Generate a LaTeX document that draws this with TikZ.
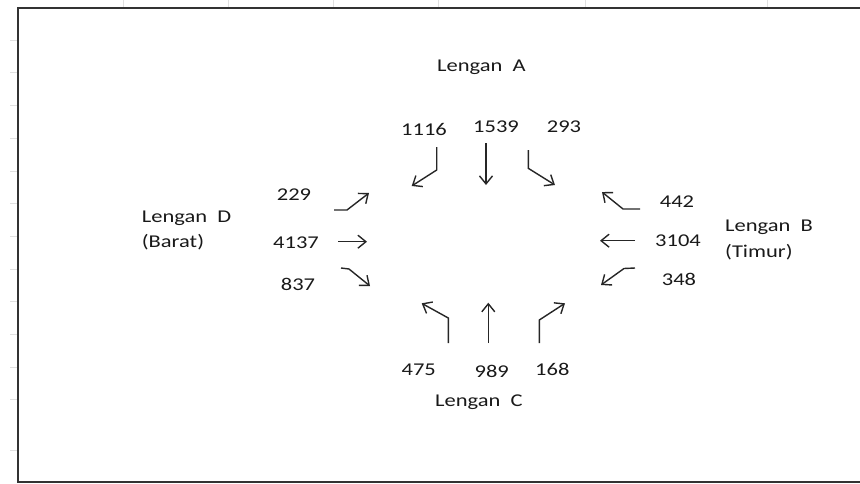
\documentclass[tikz,border=0pt]{standalone}
\usepackage{fontspec}
\setmainfont[FakeStretch=1.25]{Carlito}
\usetikzlibrary{arrows.meta}
\tikzset{
  lbl/.style={inner sep=0pt, anchor=base, font=\fontsize{18}{25.5}\selectfont, text=black!90},
  arm/.style={inner sep=0pt, anchor=base west, align=left, font=\fontsize{18}{25.5}\selectfont, text=black!90},
  flow/.style={draw=black!85, line width=1.4pt, -{Straight Barb[length=8pt,width=13pt,line width=1.4pt]}},
  frame/.style={draw=black!80, line width=2pt},
  grid/.style={draw=black!12, line width=0.8pt}
}
\begin{document}
\begin{tikzpicture}[x=1pt,y=-1pt]
\useasboundingbox (0,0) rectangle (860,483);
% faint sheet grid ticks
\foreach \gx in {123,228,333,438,585,767} \draw[grid] (\gx,0) -- (\gx,7);
\foreach \gy in {40,72,105,138,171,203,236,269,301,334,367,399,450} \draw[grid] (10,\gy) -- (17,\gy);
% frame
\coordinate (fTR) at (870,8);
\coordinate (fTL) at (18,8);
\coordinate (fBL) at (18,481.5);
\coordinate (fBR) at (870,481.5);
\draw[frame] (fTR) -- (fTL) -- (fBL) -- (fBR);
% arm labels
\node[arm] (LA) at (437,71) {Lengan\ \ A};
\node[arm] (LC) at (435,406.7) {Lengan\ \ C};
\node[arm] (LD) at (141.7,247.7) {Lengan\ \ D\\(Barat)};
\node[arm] (LB) at (725,257.3) {Lengan\ \ B\\(Timur)};
% volumes
\node[lbl] (n1116) at (424,135) {1116};
\node[lbl] (n1539) at (496,132) {1539};
\node[lbl] (n293)  at (564,132.3) {293};
\node[lbl] (n229)  at (294,200.7) {229};
\node[lbl] (n4137) at (296,248.3) {4137};
\node[lbl] (n837)  at (298,290.7) {837};
\node[lbl] (n442)  at (677,207.3) {442};
\node[lbl] (n3104) at (678,246) {3104};
\node[lbl] (n348)  at (679,285) {348};
\node[lbl] (n475)  at (418.7,375) {475};
\node[lbl] (n989)  at (491.7,377.3) {989};
\node[lbl] (n168)  at (552.3,375) {168};
% arm A arrows
\coordinate (a1s) at (436.7,147); \coordinate (a1b) at (436.7,170); \coordinate (a1t) at (411.7,186);
\coordinate (a2s) at (486,143);   \coordinate (a2t) at (486,185);
\coordinate (a3s) at (528.3,150); \coordinate (a3b) at (528.3,168.3); \coordinate (a3t) at (555,185);
\draw[flow] (a1s) -- (a1b) -- (a1t);
\draw[flow] (a2s) -- (a2t);
\draw[flow] (a3s) -- (a3b) -- (a3t);
% arm D arrows
\coordinate (d1s) at (334,210);   \coordinate (d1b) at (347,210);   \coordinate (d1t) at (369,193);
\coordinate (d2s) at (338,241.7); \coordinate (d2t) at (367,241.7);
\coordinate (d3s) at (341,268);   \coordinate (d3b) at (349,269);   \coordinate (d3t) at (370,286);
\draw[flow] (d1s) -- (d1b) -- (d1t);
\draw[flow] (d2s) -- (d2t);
\draw[flow] (d3s) -- (d3b) -- (d3t);
% arm B arrows
\coordinate (b1s) at (640,209);   \coordinate (b1b) at (623,209);   \coordinate (b1t) at (602,192);
\coordinate (b2s) at (635,240.7); \coordinate (b2t) at (600,240.7);
\coordinate (b3s) at (635,268);   \coordinate (b3b) at (624,268.5); \coordinate (b3t) at (601,285);
\draw[flow] (b1s) -- (b1b) -- (b1t);
\draw[flow] (b2s) -- (b2t);
\draw[flow] (b3s) -- (b3b) -- (b3t);
% arm C arrows
\coordinate (c1s) at (448.3,343); \coordinate (c1b) at (448.3,318); \coordinate (c1t) at (421.7,303.3);
\coordinate (c2s) at (488.3,343); \coordinate (c2t) at (488.3,302.7);
\coordinate (c3s) at (539.3,343); \coordinate (c3b) at (539.3,320); \coordinate (c3t) at (565,303.3);
\draw[flow] (c1s) -- (c1b) -- (c1t);
\draw[flow] (c2s) -- (c2t);
\draw[flow] (c3s) -- (c3b) -- (c3t);
\end{tikzpicture}
\end{document}
